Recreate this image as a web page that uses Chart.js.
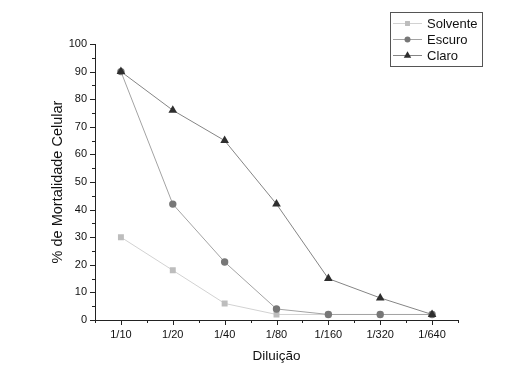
<!DOCTYPE html>
<html>
<head>
<meta charset="utf-8">
<script src="https://cdn.jsdelivr.net/npm/chart.js@4/dist/chart.umd.min.js"></script>
<style>
html, body { margin: 0; padding: 0; background: #fff; }
#wrap { width: 531px; height: 384px; }
</style>
</head>
<body>
<div id="wrap"><canvas id="c" width="531" height="384"></canvas></div>
<script>
// data
const diluicoes = ['1/10', '1/20', '1/40', '1/80', '1/160', '1/320', '1/640'];
const solvente = [30, 18, 6, 2, 2, 2, 2];
const escuro = [90, 42, 21, 4, 2, 2, 2];
const claro = [90, 76, 65, 42, 15, 8, 2];
const yTicks = [0, 10, 20, 30, 40, 50, 60, 70, 80, 90, 100];

const FONT = '"Liberation Sans", Arial, sans-serif';
const AXIS = '#222';

// later series sit on top, as in the original plot
const series = [
  { label: 'Solvente', data: solvente, line: '#d2d2d2', point: '#bdbdbd', style: 'rect', r: 4.2, order: 3 },
  { label: 'Escuro', data: escuro, line: '#a3a3a3', point: '#777777', style: 'circle', r: 3.7, order: 2 },
  { label: 'Claro', data: claro, line: '#858585', point: '#2e2e2e', style: 'triangle', r: 5, order: 1 }
];

// ticks (major + minor) and the boxed legend
const extras = {
  id: 'extras',
  afterDraw(chart) {
    const ctx = chart.ctx;
    const x = chart.scales.x, y = chart.scales.y;
    const a = chart.chartArea;
    ctx.save();
    ctx.strokeStyle = AXIS;
    ctx.lineWidth = 1;
    ctx.beginPath();
    // y ticks
    for (let v = 0; v <= 100; v += 5) {
      const py = Math.round(y.getPixelForValue(v)) + 0.5;
      const len = v % 10 === 0 ? 5 : 3;
      ctx.moveTo(a.left - len, py);
      ctx.lineTo(a.left, py);
    }
    // x ticks
    const n = diluicoes.length;
    for (let i = 0; i < n; i++) {
      const px = Math.round(x.getPixelForValue(i)) + 0.5;
      ctx.moveTo(px, a.bottom);
      ctx.lineTo(px, a.bottom + 5);
    }
    for (let i = 0; i <= n; i++) {
      const px = Math.round(x.getPixelForValue(i - 0.5)) + 0.5;
      ctx.moveTo(px, a.bottom);
      ctx.lineTo(px, a.bottom + 3);
    }
    ctx.stroke();

    // legend
    const lx = 390.5, ly = 12.5, lw = 92, lh = 54;
    ctx.strokeStyle = '#555';
    ctx.strokeRect(lx, ly, lw, lh);
    ctx.font = '13px ' + FONT;
    ctx.textBaseline = 'middle';
    series.forEach((s, i) => {
      const cy = 23.5 + i * 16;
      ctx.strokeStyle = s.line;
      ctx.beginPath();
      ctx.moveTo(393, cy);
      ctx.lineTo(422, cy);
      ctx.stroke();
      ctx.fillStyle = s.point;
      Chart.helpers.drawPoint(ctx, { pointStyle: s.style, radius: s.r - 0.7, borderWidth: 0 }, 407.5, cy);
      ctx.fillStyle = '#111';
      ctx.fillText(s.label, 427, cy + 1);
    });
    ctx.restore();
  }
};

new Chart(document.getElementById('c'), {
  type: 'line',
  data: {
    labels: diluicoes,
    datasets: series.map(s => ({
      label: s.label,
      data: s.data,
      order: s.order,
      borderColor: s.line,
      borderWidth: 1,
      pointStyle: s.style,
      pointRadius: s.r,
      pointBackgroundColor: s.point,
      pointBorderColor: s.point,
      pointBorderWidth: 0,
      tension: 0
    }))
  },
  options: {
    responsive: false,
    animation: false,
    layout: { padding: { top: 44, right: 73, left: 0, bottom: 0 } },
    plugins: { legend: { display: false }, tooltip: { enabled: false } },
    scales: {
      x: {
        offset: true,
        grid: { display: false, drawTicks: false },
        border: { display: true, color: AXIS, width: 1 },
        ticks: { color: '#111', font: { family: FONT, size: 11 }, padding: 8, maxRotation: 0, autoSkip: false },
        title: { display: true, text: 'Diluição', color: '#111', font: { family: FONT, size: 13.5 }, padding: { top: 6, bottom: 20 } },
        afterFit(s) { s.height = 64; }
      },
      y: {
        min: 0,
        max: 100,
        afterBuildTicks(s) { s.ticks = yTicks.map(v => ({ value: v })); },
        grid: { display: false, drawTicks: false },
        border: { display: true, color: AXIS, width: 1 },
        ticks: { color: '#111', font: { family: FONT, size: 11 }, padding: 8 },
        title: { display: true, text: '% de Mortalidade Celular', color: '#111', font: { family: FONT, size: 14.5 }, padding: { top: 49, bottom: 0 } },
        afterFit(s) { s.width = 95; }
      }
    }
  },
  plugins: [extras]
});
</script>
</body>
</html>
